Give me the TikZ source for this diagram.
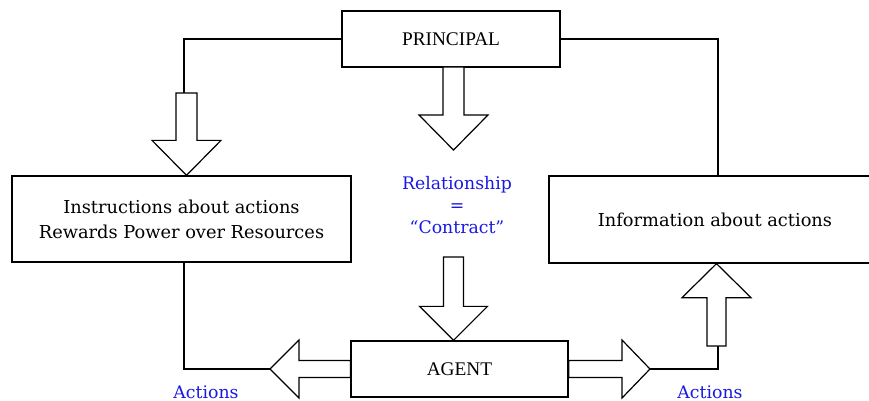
\documentclass[tikz,border=0pt]{standalone}
\usepackage{fontspec}
\setmainfont{DejaVu Serif}
\newfontfamily\timesfont{Liberation Serif}
\usetikzlibrary{calc}
\definecolor{labelblue}{RGB}{25,25,225}

% hollow block arrow: tail, tip, shaft half width, head half width, head length
\newcommand{\widearrow}[5]{%
  \path ($(#2)!#5!(#1)$) coordinate (wa-neck);
  \draw[fatarrow]
    ($(#1)!#3!90:(#2)$) -- ($(wa-neck)!#3!90:(#2)$) -- ($(wa-neck)!#4!90:(#2)$)
    -- (#2) -- ($(wa-neck)!#4!-90:(#2)$) -- ($(wa-neck)!#3!-90:(#2)$)
    -- ($(#1)!#3!-90:(#2)$) -- cycle;}

\begin{document}
\begin{tikzpicture}[x=1pt,y=-1pt,
  box/.style={draw, line width=1.3pt, fill=white, inner sep=0pt, align=center},
  link/.style={draw, line width=1.3pt},
  fatarrow/.style={draw, line width=1.2pt, fill=white, line join=miter},
  bluelabel/.style={text=labelblue, font=\fontsize{17.3}{22}\selectfont, align=center},
  boxtext/.style={font=\fontsize{17.8}{25}\selectfont},
  capsfont/.style={font=\timesfont\fontsize{19.3}{22}\selectfont},
]
\useasboundingbox (0,0) rectangle (869,401);
\clip (0,0) rectangle (869,401);

% boxes
\node[box, capsfont, minimum width=218pt, minimum height=56pt] (principal) at (451,39) {PRINCIPAL};
\node[box, boxtext, minimum width=339pt, minimum height=86pt] (instr) at (181.5,219)
  {Instructions about actions\\Rewards Power over Resources};
\node[box, boxtext, minimum width=332pt, minimum height=87pt] (info) at (715,219.5)
  {Information about actions};
\node[box, capsfont, minimum width=217pt, minimum height=56pt] (agent) at (459.5,369) {AGENT};

% blue labels
\node[bluelabel] (contract) at (457,205) {Relationship\\=\\“Contract”};
\node[bluelabel] (actleft) at (206,392) {Actions};
\node[bluelabel] (actright) at (710,392) {Actions};

% arrow anchor points
\coordinate (ta-tail) at (453.5,67);
\coordinate (ta-tip) at (453.5,150);
\coordinate (ma-tail) at (453.5,257);
\coordinate (ma-tip) at (ma-tail |- agent.north);
\coordinate (la-tail) at (186.5,93);
\coordinate (la-tip) at (la-tail |- instr.north);
\coordinate (lh-tail) at (agent.west);
\coordinate (lh-tip) at (270,369);
\coordinate (rh-tail) at (agent.east);
\coordinate (rh-tip) at (650,369);
\coordinate (ua-tail) at (716.5,346);
\coordinate (ua-tip) at (ua-tail |- info.south);

% connecting lines
\coordinate (l-top) at (184,93);
\coordinate (l-bot) at (l-top |- instr.south);
\coordinate (r-bot) at (718,346);
\coordinate (r-top) at (r-bot |- info.north);
\draw[link] (principal.west) -| (l-top);
\draw[link] (principal.east) -| (r-top);
\draw[link] (l-bot) |- (lh-tip);
\draw[link] (rh-tip) -| (r-bot);

% block arrows
\widearrow{ta-tail}{ta-tip}{10.5pt}{34.5pt}{35pt}
\widearrow{la-tail}{la-tip}{10.5pt}{34.5pt}{35pt}
\widearrow{ma-tail}{ma-tip}{10pt}{34pt}{34pt}
\widearrow{lh-tail}{lh-tip}{8.5pt}{29pt}{29pt}
\widearrow{rh-tail}{rh-tip}{8.5pt}{29pt}{28pt}
\widearrow{ua-tail}{ua-tip}{9.5pt}{34.5pt}{34pt}
\end{tikzpicture}
\end{document}
